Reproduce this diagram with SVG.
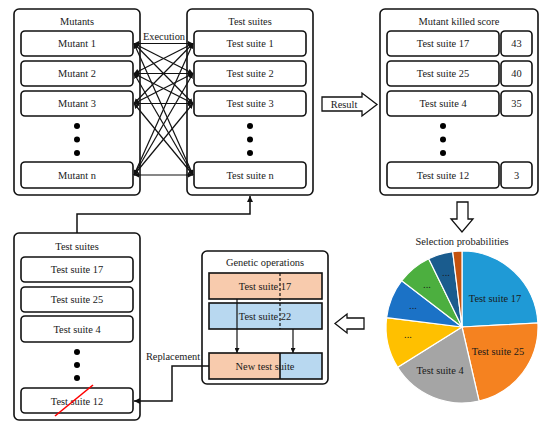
<svg xmlns="http://www.w3.org/2000/svg" width="550" height="429" viewBox="0 0 550 429" font-family="'Liberation Serif', 'Times New Roman', 'DejaVu Serif', serif">
<style>
text{font-family:'Liberation Serif','Times New Roman','DejaVu Serif',serif;font-size:10.4px;fill:#1a1a1a;text-anchor:middle}
.outer{fill:#fff;stroke:#111;stroke-width:1.6}
.box{fill:#fff;stroke:#111;stroke-width:1.6}
.line{fill:none;stroke:#111;stroke-width:1.2}
.conn{fill:none;stroke:#111;stroke-width:1.5}
.dot{fill:#000}
.barrow{fill:#fff;stroke:#111;stroke-width:1.3}
.sl{stroke:#fff;stroke-width:1.2}
</style>
<defs>
<marker id="ah" viewBox="0 0 10 10" refX="10" refY="5" markerWidth="5" markerHeight="5" orient="auto-start-reverse" markerUnits="userSpaceOnUse"><path d="M0,0 L10,5 L0,10 z" fill="#111"/></marker>
<marker id="ah2" viewBox="0 0 10 10" refX="10" refY="5" markerWidth="6" markerHeight="6" orient="auto" markerUnits="userSpaceOnUse"><path d="M0,0 L10,5 L0,10 z" fill="#111"/></marker>
</defs>

<g id="mutants">
<rect class="outer" x="14" y="9" width="126" height="186" rx="5"/>
<text x="77" y="25">Mutants</text>
<rect class="box" x="21" y="31" width="112" height="25" rx="4"/><text x="77" y="47">Mutant 1</text>
<rect class="box" x="21" y="61" width="112" height="25" rx="4"/><text x="77" y="77">Mutant 2</text>
<rect class="box" x="21" y="91" width="112" height="25" rx="4"/><text x="77" y="107">Mutant 3</text>
<circle class="dot" cx="77" cy="126" r="3"/><circle class="dot" cx="77" cy="139.5" r="3"/><circle class="dot" cx="77" cy="153" r="3"/>
<rect class="box" x="21" y="162" width="112" height="26" rx="4"/><text x="77" y="179">Mutant n</text>
</g>

<g id="test-suites-top">
<rect class="outer" x="187" y="9" width="126" height="186" rx="5"/>
<text x="250" y="25">Test suites</text>
<rect class="box" x="194" y="31" width="112" height="25" rx="4"/><text x="250" y="47">Test suite 1</text>
<rect class="box" x="194" y="61" width="112" height="25" rx="4"/><text x="250" y="77">Test suite 2</text>
<rect class="box" x="194" y="91" width="112" height="25" rx="4"/><text x="250" y="107">Test suite 3</text>
<circle class="dot" cx="250" cy="126" r="3"/><circle class="dot" cx="250" cy="139.5" r="3"/><circle class="dot" cx="250" cy="153" r="3"/>
<rect class="box" x="194" y="162" width="112" height="26" rx="4"/><text x="250" y="179">Test suite n</text>
</g>

<g id="killed-score">
<rect class="outer" x="380" y="9" width="158" height="186" rx="5"/>
<text x="459" y="25">Mutant killed score</text>
<rect class="box" x="387" y="31" width="112" height="25" rx="4"/><text x="443" y="47">Test suite 17</text>
<rect class="box" x="501" y="31" width="31" height="25" rx="4"/><text x="516.5" y="47">43</text>
<rect class="box" x="387" y="61" width="112" height="25" rx="4"/><text x="443" y="77">Test suite 25</text>
<rect class="box" x="501" y="61" width="31" height="25" rx="4"/><text x="516.5" y="77">40</text>
<rect class="box" x="387" y="91" width="112" height="25" rx="4"/><text x="443" y="107">Test suite 4</text>
<rect class="box" x="501" y="91" width="31" height="25" rx="4"/><text x="516.5" y="107">35</text>
<circle class="dot" cx="443" cy="126" r="3"/><circle class="dot" cx="443" cy="139.5" r="3"/><circle class="dot" cx="443" cy="153" r="3"/>
<rect class="box" x="387" y="162" width="112" height="26" rx="4"/><text x="443" y="179">Test suite 12</text>
<rect class="box" x="501" y="162" width="31" height="26" rx="4"/><text x="516.5" y="179">3</text>
</g>

<g id="result-arrow">
<polygon class="barrow" points="322,97 362,97 362,93 377,104.5 362,116 362,111 322,111"/>
<text x="344" y="108">Result</text>
</g>

<g id="down-arrow">
<polygon class="barrow" points="457,202 468,202 468,219 473,219 462,232 451,219 457,219"/>
</g>

<g id="left-arrow">
<polygon class="barrow" points="364,318 347,318 347,314 335,323.5 347,333 347,329 364,329"/>
</g>

<g id="pie">
<text x="462" y="245">Selection probabilities</text>
<path class="sl" fill="#1F9AD6" d="M462,327 L462,251 A76,76 0 0 1 537.9,323 Z"/>
<path class="sl" fill="#F58220" d="M462,327 L537.9,323 A76,76 0 0 1 479.1,401.1 Z"/>
<path class="sl" fill="#A5A5A5" d="M462,327 L479.1,401.1 A76,76 0 0 1 397.6,367.3 Z"/>
<path class="sl" fill="#FFC000" d="M462,327 L397.6,367.3 A76,76 0 0 1 386.6,317.7 Z"/>
<path class="sl" fill="#1B72C6" d="M462,327 L386.6,317.7 A76,76 0 0 1 401.7,280.7 Z"/>
<path class="sl" fill="#4CAF3F" d="M462,327 L401.7,280.7 A76,76 0 0 1 428.7,258.7 Z"/>
<path class="sl" fill="#1A5C8E" d="M462,327 L428.7,258.7 A76,76 0 0 1 452.7,251.6 Z"/>
<path class="sl" fill="#C4520E" d="M462,327 L452.7,251.6 A76,76 0 0 1 462,251 Z"/>
<text x="495" y="302">Test suite 17</text>
<text x="498" y="355">Test suite 25</text>
<text x="440" y="374">Test suite 4</text>
<text x="408" y="338" font-size="9">...</text>
<text x="413" y="309" font-size="9">...</text>
<text x="427" y="288" font-size="9">...</text>
<text x="446" y="276" font-size="9">...</text>
</g>

<g id="genetic-operations">
<rect class="outer" x="202" y="251" width="126" height="133" rx="5"/>
<text x="265" y="266">Genetic operations</text>
<rect x="209" y="273" width="113" height="26" fill="#F8CBAD" stroke="#111" stroke-width="1.6"/>
<text x="265" y="290">Test suite 17</text>
<rect x="209" y="303" width="113" height="26" fill="#B8D8F0" stroke="#111" stroke-width="1.6"/>
<text x="265" y="320">Test suite 22</text>
<line x1="280" y1="273" x2="280" y2="329" stroke="#111" stroke-width="1.2" stroke-dasharray="3,2"/>
<rect x="209" y="353" width="71" height="26" fill="#F8CBAD"/>
<rect x="280" y="353" width="42" height="26" fill="#B8D8F0"/>
<rect x="209" y="353" width="113" height="26" fill="none" stroke="#111" stroke-width="1.6"/>
<line x1="280" y1="353" x2="280" y2="379" stroke="#111" stroke-width="1.6"/>
<text x="265" y="370">New test suite</text>
<line class="line" x1="237" y1="299" x2="237" y2="353" marker-end="url(#ah)"/>
<line class="line" x1="293" y1="329" x2="293" y2="353" marker-end="url(#ah)"/>
</g>

<g id="test-suites-bottom">
<rect class="outer" x="14" y="233" width="126" height="187" rx="5"/>
<text x="77" y="250">Test suites</text>
<rect class="box" x="21" y="257" width="112" height="25" rx="4"/><text x="77" y="273">Test suite 17</text>
<rect class="box" x="21" y="287" width="112" height="25" rx="4"/><text x="77" y="303">Test suite 25</text>
<rect class="box" x="21" y="316" width="112" height="26" rx="4"/><text x="77" y="333">Test suite 4</text>
<circle class="dot" cx="77" cy="352" r="3"/><circle class="dot" cx="77" cy="365" r="3"/><circle class="dot" cx="77" cy="378" r="3"/>
<rect class="box" x="21" y="388" width="112" height="25" rx="4"/><text x="77" y="405">Test suite 12</text>
<line x1="55" y1="416" x2="93" y2="385" stroke="#FF0000" stroke-width="1.6"/>
</g>

<g id="connectors">
<g class="line">
<line x1="134" y1="43.5" x2="193" y2="43.5" marker-start="url(#ah)" marker-end="url(#ah)"/>
<line x1="134" y1="43.5" x2="193" y2="73.5" marker-start="url(#ah)" marker-end="url(#ah)"/>
<line x1="134" y1="43.5" x2="193" y2="103.5" marker-start="url(#ah)" marker-end="url(#ah)"/>
<line x1="134" y1="43.5" x2="193" y2="175" marker-start="url(#ah)" marker-end="url(#ah)"/>
<line x1="134" y1="73.5" x2="193" y2="43.5" marker-start="url(#ah)" marker-end="url(#ah)"/>
<line x1="134" y1="73.5" x2="193" y2="73.5" marker-start="url(#ah)" marker-end="url(#ah)"/>
<line x1="134" y1="73.5" x2="193" y2="103.5" marker-start="url(#ah)" marker-end="url(#ah)"/>
<line x1="134" y1="73.5" x2="193" y2="175" marker-start="url(#ah)" marker-end="url(#ah)"/>
<line x1="134" y1="103.5" x2="193" y2="43.5" marker-start="url(#ah)" marker-end="url(#ah)"/>
<line x1="134" y1="103.5" x2="193" y2="73.5" marker-start="url(#ah)" marker-end="url(#ah)"/>
<line x1="134" y1="103.5" x2="193" y2="103.5" marker-start="url(#ah)" marker-end="url(#ah)"/>
<line x1="134" y1="103.5" x2="193" y2="175" marker-start="url(#ah)" marker-end="url(#ah)"/>
<line x1="134" y1="175" x2="193" y2="43.5" marker-start="url(#ah)" marker-end="url(#ah)"/>
<line x1="134" y1="175" x2="193" y2="73.5" marker-start="url(#ah)" marker-end="url(#ah)"/>
<line x1="134" y1="175" x2="193" y2="103.5" marker-start="url(#ah)" marker-end="url(#ah)"/>
<line x1="134" y1="175" x2="193" y2="175" marker-start="url(#ah)" marker-end="url(#ah)"/>
</g>
<text x="164" y="40">Execution</text>
<path class="conn" d="M77,233 V214 H250 V196" marker-end="url(#ah2)"/>
<path class="conn" d="M209,366 H172 V401 H134" marker-end="url(#ah2)"/>
<text x="173" y="360">Replacement</text>
</g>
</svg>
